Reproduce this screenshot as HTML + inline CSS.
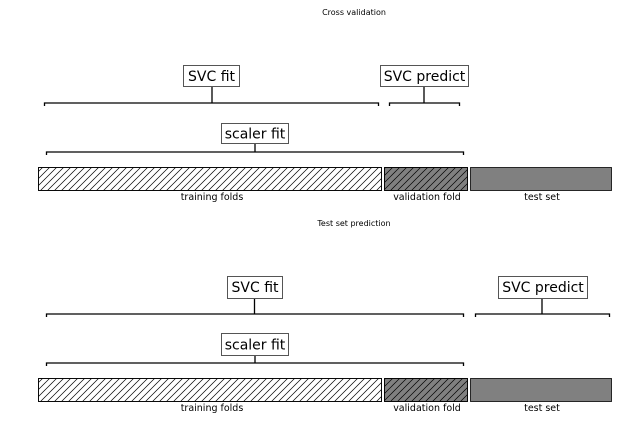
<!DOCTYPE html>
<html><head><meta charset="utf-8"><style>
html,body{margin:0;padding:0;background:#fff;}
svg{display:block;font-family:"DejaVu Sans","Liberation Sans",sans-serif;}
</style></head><body>
<svg width="640" height="428" viewBox="0 0 640 428" xmlns="http://www.w3.org/2000/svg">
<defs>
<pattern id="h" patternUnits="userSpaceOnUse" width="7" height="7">
<path d="M-1,8 L8,-1 M-2,2 L2,-2 M5,9 L9,5" stroke="#000" stroke-width="0.7"/>
</pattern>
</defs>
<g fill="#000" font-size="8" text-anchor="middle">
<text x="354" y="15">Cross validation</text>
<text x="354" y="226">Test set prediction</text>
</g>

<g id="top">
<!-- bars -->
<rect x="38.5" y="167.5" width="343" height="23" fill="#fff" stroke="#000" stroke-width="0.8"/>
<rect x="38.5" y="167.5" width="343" height="23" fill="url(#h)" stroke="#000" stroke-width="0.8"/>
<rect x="384.5" y="167.5" width="83" height="23" fill="#808080" stroke="#000" stroke-width="0.8"/>
<rect x="384.5" y="167.5" width="83" height="23" fill="url(#h)" stroke="#000" stroke-width="0.8"/>
<rect x="470.5" y="167.5" width="141" height="23" fill="#808080" stroke="#000" stroke-width="0.8"/>
<g font-size="9.5" text-anchor="middle" fill="#000">
<text x="212" y="200">training folds</text>
<text x="427" y="200">validation fold</text>
<text x="542" y="200">test set</text>
</g>
</g>
<use href="#top" y="211"/>

<g fill="none" stroke="#000" stroke-width="1.3">
<!-- top section brackets -->
<path d="M44.5,106 V103 H378.5 V106 M212,103 V87"/>
<path d="M389.5,106 V103 H459.5 V106 M424,103 V87"/>
<path d="M46.5,155 V152 H463.5 V155 M255,152 V143"/>
<!-- bottom -->
<path d="M46.5,317 V314 H463.5 V317 M254.5,314 V298"/>
<path d="M475.5,317 V314 H609.5 V317 M542,314 V298"/>
<path d="M46.5,366 V363 H463.5 V366 M255,363 V355"/>
</g>

<g fill="#fff" stroke="#555" stroke-width="1">
<rect x="183.5" y="65.5" width="56" height="21"/>
<rect x="380.5" y="65.5" width="88" height="21"/>
<rect x="221.5" y="123.5" width="67" height="20"/>
<rect x="227.5" y="276.5" width="55" height="22"/>
<rect x="498.5" y="276.5" width="89" height="22"/>
<rect x="221.5" y="333.5" width="67" height="22"/>
</g>
<g font-size="14" text-anchor="middle" fill="#000">
<text x="211.5" y="81">SVC fit</text>
<text x="424.5" y="81">SVC predict</text>
<text x="255" y="138.5">scaler fit</text>
<text x="255" y="292">SVC fit</text>
<text x="543" y="292">SVC predict</text>
<text x="255" y="349.5">scaler fit</text>
</g>
</svg>
</body></html>
